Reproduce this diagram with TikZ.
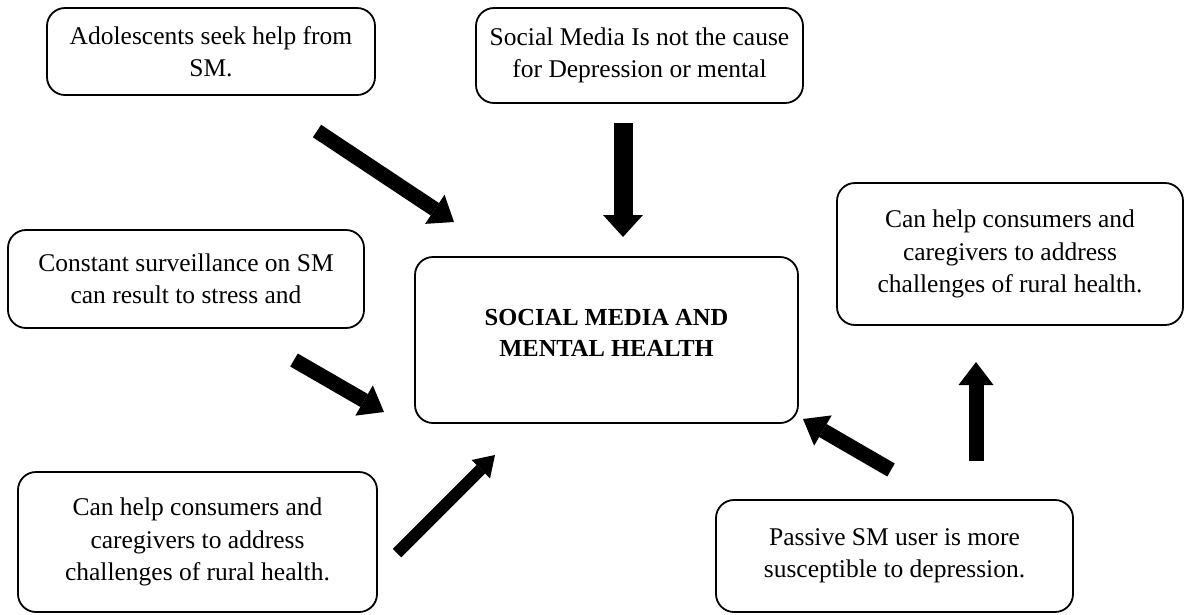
\documentclass[tikz,border=0pt]{standalone}
\usepackage{fontspec}
\setmainfont{Liberation Serif}
\usetikzlibrary{arrows.meta}

\tikzset{every picture/.style={line width=0.75pt}}
\tikzset{
  box/.style={draw, line width=1.8pt, rounded corners=18pt, align=center, inner sep=4pt,
    font=\fontsize{25.5}{32.5}\selectfont},
  bigarrow/.style={line width=15pt, -{Triangle[width=35pt,length=23pt,line width=0pt]}},
}

\begin{document}
\begin{tikzpicture}[x=1pt,y=1pt,yscale=-1,xscale=1]
\useasboundingbox (0,0) rectangle (1185,614);

\node [box, minimum width=328pt, minimum height=87pt] (adol) at (211,51.5) {Adolescents seek help from\\SM.};
\node [box, minimum width=327pt, minimum height=95pt] (cause) at (639.5,55.5) {Social Media Is not the cause\\for Depression or mental};
\node [box, minimum width=383pt, minimum height=166pt, font=\fontsize{24.5}{31}\selectfont\bfseries] (hub) at (606.5,340) {SOCIAL MEDIA AND\\MENTAL HEALTH\\[-16pt]};
\node [box, minimum width=346pt, minimum height=142pt] (helpr) at (1010,254) {Can help consumers and\\caregivers to address\\challenges of rural health.};
\node [box, minimum width=356pt, minimum height=98pt] (surv) at (186,279) {Constant surveillance on SM\\can result to stress and};
\node [box, minimum width=359pt, minimum height=140pt] (helpl) at (197.5,542) {Can help consumers and\\caregivers to address\\challenges of rural health.};
\node [box, minimum width=357pt, minimum height=112pt] (passive) at (894.5,556) {Passive SM user is more\\susceptible to depression.};

% arrow ends
\coordinate (adol-out) at (317,131);
\coordinate (hub-in1) at (454,222);
\coordinate (cause-out) at (623,123);
\coordinate (hub-in2) at (623,237);
\coordinate (surv-out) at (294,360);
\coordinate (hub-in3) at (384,412);
\coordinate (helpl-out) at (397,553);
\coordinate (hub-in4) at (495,455);
\coordinate (passive-out1) at (891,470);
\coordinate (hub-in5) at (803,419);
\coordinate (passive-out2) at (976,461);
\coordinate (helpr-in) at (976,362);

\draw [bigarrow] (adol-out) -- (hub-in1);
\draw [bigarrow, line width=19pt, -{Triangle[width=40pt,length=22pt,line width=0pt]}] (cause-out) -- (hub-in2);
\draw [bigarrow] (surv-out) -- (hub-in3);
\draw [bigarrow, line width=12pt, -{Triangle[width=26pt,length=20pt,line width=0pt]}] (helpl-out) -- (hub-in4);
\draw [bigarrow] (passive-out1) -- (hub-in5);
\draw [bigarrow] (passive-out2) -- (helpr-in);

\end{tikzpicture}
\end{document}
